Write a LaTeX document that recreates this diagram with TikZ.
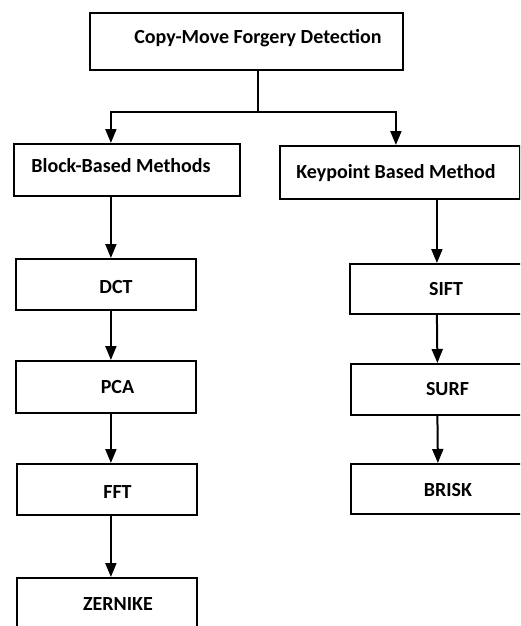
\documentclass[tikz,border=0pt]{standalone}
\usepackage{fontspec}
\setmainfont{Carlito}
\usetikzlibrary{arrows.meta}
\begin{document}
\begin{tikzpicture}[x=1pt,y=-1pt,
  box/.style={draw=black, line width=1.8pt, inner sep=0pt, anchor=north west},
  lbl/.style={font=\fontsize{20}{24}\selectfont\bfseries, inner sep=0pt, anchor=base},
  arr/.style={line width=2pt, -{Triangle[width=11pt,length=14pt]}},
  ln/.style={line width=2pt}]
\useasboundingbox (0,0) rectangle (520,626);
\clip (0,0) rectangle (520,626);
\fill[white] (0,0) rectangle (520,626);
% boxes
\node[box, minimum width=313pt, minimum height=57pt] (top) at (89,12) {};
\node[box, minimum width=226pt, minimum height=52pt] (block) at (13,143) {};
\node[box, minimum width=240pt, minimum height=53pt] (key) at (279,145) {};
\node[box, minimum width=180pt, minimum height=51pt] (dct) at (15,258) {};
\node[box, minimum width=180pt, minimum height=52pt] (pca) at (15,360) {};
\node[box, minimum width=180pt, minimum height=51pt] (fft) at (16,463) {};
\node[box, minimum width=180pt, minimum height=70pt] (zer) at (16,577) {};
\node[box, minimum width=173pt, minimum height=50pt] (sift) at (349,263) {};
\node[box, minimum width=173pt, minimum height=51pt] (surf) at (350,363) {};
\node[box, minimum width=173pt, minimum height=50pt] (brisk) at (350,463) {};
% labels
\node[lbl] (ttop) at (258,43.5) {Copy-Move Forgery Detection};
\node[lbl] (tblock) at (121,172) {Block-Based Methods};
\node[lbl] (tkey) at (396,178) {Keypoint Based Method};
\node[lbl] (tdct) at (116,293.3) {DCT};
\node[lbl] (tpca) at (117.5,393.3) {PCA};
\node[lbl] (tfft) at (117.5,498.3) {FFT};
\node[lbl] (tzer) at (118,610) {ZERNIKE};
\node[lbl] (tsift) at (446,295) {SIFT};
\node[lbl] (tsurf) at (447.5,395) {SURF};
\node[lbl] (tbrisk) at (448,496) {BRISK};
% connectors
\coordinate (jn) at (258,112);
\draw[ln] (top.south -| jn) -- (jn);
\draw[arr] (jn) -| ([xshift=-16pt]block.north);
\draw[arr] (jn) -| ([xshift=-4pt]key.north);
\draw[arr] ([xshift=-16pt]block.south) -- ([xshift=5pt]dct.north);
\draw[arr] ([xshift=5pt]dct.south) -- ([xshift=5pt]pca.north);
\draw[arr] ([xshift=5pt]pca.south) -- ([xshift=4pt]fft.north);
\draw[arr] ([xshift=4pt]fft.south) -- ([xshift=4pt]zer.north);
\draw[arr] ([xshift=37pt]key.south) -- ([xshift=0.5pt]sift.north);
\draw[arr] ([xshift=0.5pt]sift.south) -- ([xshift=0pt]surf.north);
\draw[arr] (surf.south) -- ([xshift=0.5pt]brisk.north);
\end{tikzpicture}
\end{document}
